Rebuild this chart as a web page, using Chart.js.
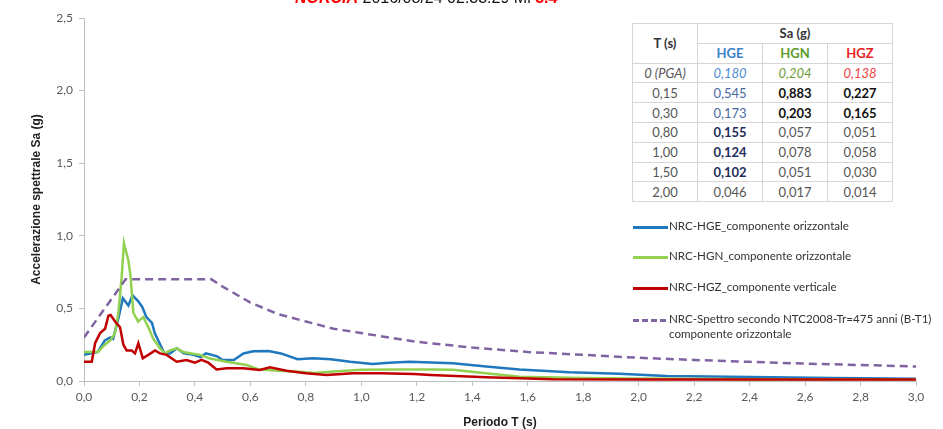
<!DOCTYPE html>
<html>
<head>
<meta charset="utf-8">
<script src="https://cdn.jsdelivr.net/npm/chart.js@4.4.0/dist/chart.umd.min.js"></script>
<style>
  body { margin: 0; background: #fff; }
  #wrap { position: relative; width: 943px; height: 429px; overflow: hidden; background: #fff; }
  #chart { position: absolute; left: 0; top: 0; }
  #title { position: absolute; left: 295px; top: -11px; font: 16px "Liberation Sans", Arial, sans-serif; color: #111; white-space: nowrap; }
  #title .red { color: #ff0000; font-weight: bold; }
  #title .place { font-style: italic; }
  #tbl { position: absolute; left: 632px; top: 23px; border-collapse: collapse; font: 13px Lato, "Open Sans", sans-serif; color: #555; background: #fff; }
  #tbl td { border: 1px solid #d6d6d6; text-align: center; height: 18.8px; padding: 0; }
  #tbl td.c0 { width: 64px; }
  #tbl td.cv { width: 64px; }
  #tbl .hd { font-weight: bold; color: #333; }
  #legend { position: absolute; left: 633px; top: 0; font: 11.6px Lato, "Open Sans", sans-serif; color: #333; }
  .lg { position: absolute; white-space: nowrap; }
  .lg .sw { position: absolute; left: 0; width: 35px; height: 3px; }
  .lg .tx { position: absolute; left: 36px; top: -8px; line-height: 15px; }
</style>
</head>
<body>
<div id="wrap">
  <canvas id="chart" width="943" height="440"></canvas>
  <div id="title"><span class="red place">NORCIA</span> 2016/08/24 02:33:29 Ml <span class="red">5.4</span></div>
  <table id="tbl"></table>
  <div id="legend"></div>
</div>
<script>
// Periodo T (s) and Sa (g)
var blueT = [0, 0.05, 0.075, 0.095, 0.105, 0.125, 0.14, 0.16, 0.175, 0.195, 0.21, 0.225, 0.245, 0.255, 0.275, 0.29, 0.31, 0.335, 0.36, 0.395, 0.42, 0.44, 0.48, 0.5, 0.54, 0.575, 0.61, 0.665, 0.71, 0.77, 0.825, 0.89, 0.96, 1.04, 1.1, 1.175, 1.25, 1.33, 1.45, 1.57, 1.75, 1.93, 2.1, 2.4, 2.7, 3.0];
var blueSa = [0.18, 0.20, 0.28, 0.30, 0.29, 0.44, 0.57, 0.52, 0.59, 0.55, 0.51, 0.44, 0.40, 0.33, 0.25, 0.19, 0.19, 0.225, 0.19, 0.18, 0.165, 0.19, 0.17, 0.145, 0.145, 0.19, 0.205, 0.207, 0.19, 0.15, 0.156, 0.15, 0.133, 0.117, 0.126, 0.133, 0.128, 0.122, 0.10, 0.08, 0.06, 0.05, 0.035, 0.028, 0.02, 0.015];

var greenT = [0, 0.05, 0.075, 0.095, 0.112, 0.124, 0.136, 0.144, 0.16, 0.168, 0.178, 0.195, 0.214, 0.232, 0.25, 0.274, 0.292, 0.31, 0.334, 0.358, 0.388, 0.418, 0.454, 0.514, 0.586, 0.63, 0.7, 0.76, 0.83, 0.9, 1.0, 1.13, 1.25, 1.33, 1.45, 1.57, 1.8, 2.0, 2.4, 3.0];
var greenSa = [0.20, 0.20, 0.25, 0.28, 0.33, 0.47, 0.72, 0.95, 0.83, 0.72, 0.47, 0.41, 0.44, 0.37, 0.29, 0.225, 0.19, 0.21, 0.225, 0.20, 0.19, 0.18, 0.155, 0.133, 0.11, 0.08, 0.07, 0.065, 0.055, 0.065, 0.078, 0.08, 0.08, 0.078, 0.053, 0.03, 0.02, 0.017, 0.012, 0.01];

var redT = [0, 0.028, 0.04, 0.058, 0.076, 0.088, 0.096, 0.112, 0.13, 0.142, 0.154, 0.172, 0.184, 0.196, 0.212, 0.232, 0.256, 0.274, 0.298, 0.334, 0.37, 0.4, 0.424, 0.448, 0.478, 0.514, 0.574, 0.634, 0.67, 0.73, 0.8, 0.875, 0.97, 1.07, 1.19, 1.25, 1.45, 1.69, 2.0, 3.0];
var redSa = [0.133, 0.133, 0.26, 0.33, 0.36, 0.45, 0.455, 0.41, 0.37, 0.25, 0.21, 0.21, 0.19, 0.26, 0.156, 0.18, 0.21, 0.19, 0.18, 0.133, 0.145, 0.126, 0.145, 0.126, 0.08, 0.087, 0.087, 0.076, 0.094, 0.07, 0.053, 0.041, 0.053, 0.053, 0.048, 0.041, 0.025, 0.012, 0.01, 0.01];

var specT = [0, 0.15, 0.46, 0.5, 0.6, 0.7, 0.8, 0.9, 1.0, 1.2, 1.4, 1.6, 1.8, 2.0, 2.2, 2.4, 2.6, 2.8, 3.0];
var specSa = [0.30, 0.70, 0.70, 0.65, 0.54, 0.46, 0.41, 0.36, 0.33, 0.27, 0.23, 0.20, 0.18, 0.16, 0.145, 0.132, 0.12, 0.11, 0.10];

var seriesNames = ['NRC-HGE_componente orizzontale', 'NRC-HGN_componente orizzontale', 'NRC-HGZ_componente verticale', 'NRC-Spettro secondo NTC2008-Tr=475 anni (B-T1)|componente orizzontale'];
var seriesColors = ['#1f77be', '#92d050', '#c00000', '#8064a2'];

// table values
var tablePeriods = ['0 (PGA)', '0,15', '0,30', '0,80', '1,00', '1,50', '2,00'];
var tableHGE = [0.180, 0.545, 0.173, 0.155, 0.124, 0.102, 0.046];
var tableHGN = [0.204, 0.883, 0.203, 0.057, 0.078, 0.051, 0.017];
var tableHGZ = [0.138, 0.227, 0.165, 0.051, 0.058, 0.030, 0.014];

function pts(t, v) {
  return t.map(function (x, i) { return { x: x, y: v[i] }; });
}
function comma(v, d) {
  return v.toFixed(d).replace('.', ',');
}

// --- table
var tbl = document.getElementById('tbl');
var html = '<tr><td class="c0 hd" rowspan="2">T (s)</td><td class="hd" colspan="3">Sa (g)</td></tr>';
html += '<tr><td class="cv hd" style="color:#3b82c9">HGE</td><td class="cv hd" style="color:#5f9a2c">HGN</td><td class="cv hd" style="color:#e8231f">HGZ</td></tr>';
for (var i = 0; i < tablePeriods.length; i++) {
  var e = comma(tableHGE[i], 3), n = comma(tableHGN[i], 3), z = comma(tableHGZ[i], 3);
  if (i == 0) {
    html += '<tr style="font-style:italic"><td>' + tablePeriods[i] + '</td><td style="color:#4a8ad0">' + e +
      '</td><td style="color:#6e9e3c">' + n + '</td><td style="color:#ee4040">' + z + '</td></tr>';
  } else {
    var eStyle = (i >= 3 && i <= 5) ? 'font-weight:bold;color:#1f2d5c' : (i <= 2 ? 'color:#4a6a9e' : '');
    var nzStyle = (i <= 2) ? 'font-weight:bold;color:#111' : '';
    html += '<tr><td>' + tablePeriods[i] + '</td><td style="' + eStyle + '">' + e + '</td><td style="' + nzStyle + '">' + n +
      '</td><td style="' + nzStyle + '">' + z + '</td></tr>';
  }
}
tbl.innerHTML = html;

// --- legend
var legendY = [227, 257, 288, 320];
var lg = document.getElementById('legend');
seriesNames.forEach(function (name, k) {
  var sw;
  if (k == 3) {
    sw = 'background:repeating-linear-gradient(to right,' + seriesColors[k] + ' 0 6px,transparent 6px 9px)';
  } else {
    sw = 'background:' + seriesColors[k];
  }
  var parts = name.split('|');
  var d = document.createElement('div');
  d.className = 'lg';
  d.style.top = (legendY[k] - 1) + 'px';
  d.innerHTML = '<div class="sw" style="' + sw + '"></div><div class="tx">' + parts.join('<br>') + '</div>';
  lg.appendChild(d);
});

// --- chart
var tickFont = { family: 'Lato', size: 12 };
var ctx = document.getElementById('chart').getContext('2d');
window.myChart = new Chart(ctx, {
  type: 'scatter',
  data: {
    datasets: [
      { label: seriesNames[3], data: pts(specT, specSa), borderColor: seriesColors[3], borderWidth: 2.5, borderDash: [8, 5], order: 0 },
      { label: seriesNames[2], data: pts(redT, redSa), borderColor: seriesColors[2], borderWidth: 2.5, order: 1 },
      { label: seriesNames[1], data: pts(greenT, greenSa), borderColor: seriesColors[1], borderWidth: 2.5, order: 2 },
      { label: seriesNames[0], data: pts(blueT, blueSa), borderColor: seriesColors[0], borderWidth: 2.5, order: 3 }
    ]
  },
  options: {
    responsive: false,
    animation: false,
    showLine: true,
    elements: { point: { radius: 0 }, line: { tension: 0, fill: false } },
    layout: { padding: { top: 18, right: 27, left: 0, bottom: 0 } },
    plugins: { legend: { display: false }, tooltip: { enabled: false } },
    scales: {
      x: {
        type: 'linear', min: 0, max: 3,
        afterFit: function (s) { s.height = 59; },
        ticks: { stepSize: 0.2, color: '#595959', font: tickFont, padding: 4, maxRotation: 0,
          callback: function (v) { return comma(v, 1); } },
        grid: { drawOnChartArea: false, color: '#bfbfbf', tickLength: 5 },
        border: { color: '#bfbfbf' },
        title: { display: true, text: 'Periodo T (s)', color: '#222', font: { family: 'Liberation Sans', size: 12, weight: 'bold' }, padding: { top: 0, bottom: 10 } }
      },
      y: {
        min: 0, max: 2.5,
        afterFit: function (s) { s.width = 84; },
        ticks: { stepSize: 0.5, color: '#595959', font: tickFont, padding: 6,
          callback: function (v) { return comma(v, 1); } },
        grid: { drawOnChartArea: false, color: '#bfbfbf', tickLength: 5 },
        border: { color: '#bfbfbf' },
        title: { display: true, text: 'Accelerazione spettrale Sa (g)', color: '#222', font: { family: 'Liberation Sans', size: 12, weight: 'bold' }, padding: { top: 29, bottom: 0 } }
      }
    }
  }
});
</script>
</body>
</html>
